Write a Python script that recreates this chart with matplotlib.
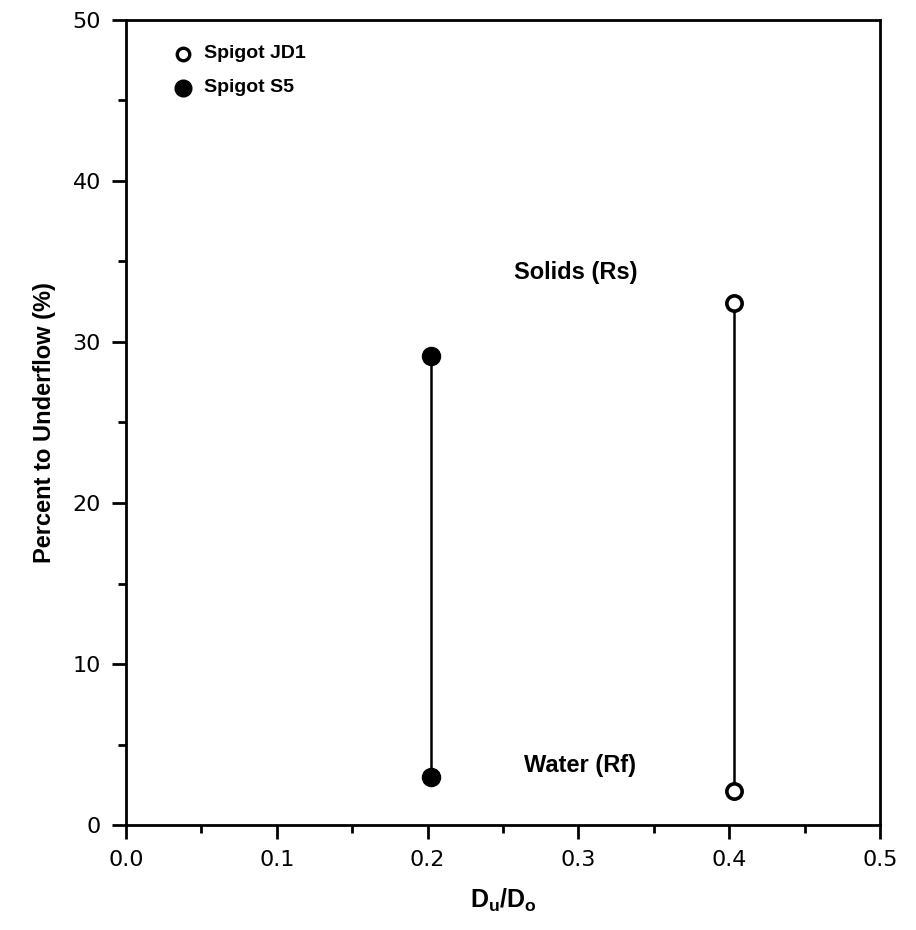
import matplotlib.pyplot as plt
from matplotlib.ticker import MultipleLocator

plt.rcParams['font.family'] = ['Liberation Sans', 'DejaVu Sans']
plt.rcParams['mathtext.fontset'] = 'custom'
plt.rcParams['mathtext.rm'] = 'Liberation Sans:bold'
plt.rcParams['mathtext.bf'] = 'Liberation Sans:bold'

# Data
ratio_s5 = 0.202
ratio_jd1 = 0.403
s5_solids, s5_water = 29.1, 3.0
jd1_solids, jd1_water = 32.4, 2.1

fig = plt.figure(figsize=(9.16, 9.3), dpi=100)
ax = fig.add_axes([0.1376, 0.1129, 0.8231, 0.8656])

# vertical connecting lines
ax.plot([ratio_s5, ratio_s5], [s5_water, s5_solids], color='black', lw=1.8, zorder=2)
ax.plot([ratio_jd1, ratio_jd1], [jd1_water, jd1_solids], color='black', lw=1.8, zorder=2)

# markers
ax.plot([ratio_s5, ratio_s5], [s5_water, s5_solids], 'o', color='black', ms=13, zorder=3)
ax.plot([ratio_jd1, ratio_jd1], [jd1_water, jd1_solids], 'o', mfc='white', mec='black',
        mew=2.6, ms=11, zorder=3)

ax.text(0.298, 34.3, 'Solids (Rs)', ha='center', va='center', fontsize=17, fontweight='bold')
ax.text(0.301, 3.7, 'Water (Rf)', ha='center', va='center', fontsize=17, fontweight='bold')

# legend drawn by hand, like the original
ax.plot([0.038], [47.9], 'o', mfc='white', mec='black', mew=2.4, ms=9)
ax.text(0.052, 47.9, 'Spigot JD1', va='center', fontsize=14, fontweight='bold')
ax.plot([0.038], [45.8], 'o', color='black', ms=12)
ax.text(0.052, 45.8, 'Spigot S5', va='center', fontsize=14, fontweight='bold')

ax.set_xlim(0, 0.5)
ax.set_ylim(0, 50)
ax.xaxis.set_major_locator(MultipleLocator(0.1))
ax.xaxis.set_minor_locator(MultipleLocator(0.05))
ax.yaxis.set_major_locator(MultipleLocator(10))
ax.yaxis.set_minor_locator(MultipleLocator(5))
ax.xaxis.set_major_formatter(plt.FormatStrFormatter('%.1f'))

ax.tick_params(which='major', direction='out', length=10, width=2, labelsize=16, pad=8)
ax.tick_params(which='minor', direction='out', length=6, width=2)
ax.tick_params(top=False, right=False)
for lab in ax.get_xticklabels() + ax.get_yticklabels():
    lab.set_fontfamily('DejaVu Sans')
for s in ax.spines.values():
    s.set_linewidth(2)

ax.set_xlabel(r'D$_\mathrm{u}$/D$_\mathrm{o}$', fontsize=18, fontweight='bold', labelpad=12)
ax.set_ylabel('Percent to Underflow (%)', fontsize=17, fontweight='bold', labelpad=12)

fig.savefig('out.png', dpi=100)
